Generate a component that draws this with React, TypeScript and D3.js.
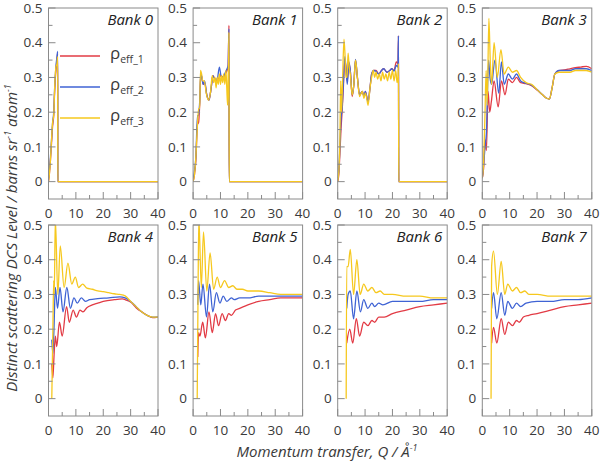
import React, { FC, useMemo } from 'react'
import * as d3 from 'd3'

type Pt = [number, number]

const qTicks = [0, 10, 20, 30, 40]
const qMinorTicks = [0, 5, 10, 15, 20, 25, 30, 35, 40]
const levelTicks = [0, 0.1, 0.2, 0.3, 0.4, 0.5]
const levelMinorTicks = [0, 0.05, 0.1, 0.15, 0.2, 0.25, 0.3, 0.35, 0.4, 0.45, 0.5]
const seriesSubs = ['eff_1', 'eff_2', 'eff_3']
const seriesColors = ['#e23b45', '#3f63d4', '#f6c81e']
const bankNames = ['Bank 0', 'Bank 1', 'Bank 2', 'Bank 3', 'Bank 4', 'Bank 5', 'Bank 6', 'Bank 7']

// [Q, DCS level] for each bank, rho_eff_1 / rho_eff_2 / rho_eff_3
const bank0Rho1: Pt[] = [[0, 0], [0.3, 0.02], [0.7, 0.06], [1.1, 0.11], [1.5, 0.16], [1.9, 0.19], [2.3, 0.27], [2.7, 0.32], [3.1, 0.35], [3.35, 0.37], [3.4, 0], [40, 0]]
const bank0Rho2: Pt[] = [[0, 0.01], [0.3, 0.03], [0.7, 0.07], [1.1, 0.12], [1.5, 0.17], [1.9, 0.2], [2.3, 0.28], [2.7, 0.33], [3.1, 0.36], [3.35, 0.375], [3.4, 0], [40, 0]]
const bank0Rho3: Pt[] = [[0, 0], [0.3, 0.02], [0.7, 0.06], [1.1, 0.12], [1.5, 0.17], [1.9, 0.19], [2.3, 0.28], [2.7, 0.33], [3.1, 0.34], [3.35, 0.36], [3.4, 0], [40, 0]]

const bank1Rho1: Pt[] = [[0, 0], [0.5, 0.02], [1.0, 0.06], [1.6, 0.165], [2.0, 0.17], [2.4, 0.22], [2.8, 0.31], [3.2, 0.3], [3.7, 0.28], [4.2, 0.285], [5.0, 0.25], [5.8, 0.235], [6.6, 0.27], [7.2, 0.305], [8.0, 0.295], [8.8, 0.29], [9.6, 0.3], [10.2, 0.305], [11.0, 0.3], [11.8, 0.31], [12.4, 0.32], [12.8, 0.33], [13.1, 0.45], [13.2, 0], [40, 0]]
const bank1Rho2: Pt[] = [[0, 0.01], [0.5, 0.03], [1.0, 0.07], [1.6, 0.19], [2.0, 0.19], [2.4, 0.23], [2.8, 0.31], [3.2, 0.3], [3.7, 0.28], [4.2, 0.29], [5.0, 0.25], [5.8, 0.235], [6.6, 0.27], [7.2, 0.305], [8.0, 0.295], [8.8, 0.295], [9.6, 0.33], [10.2, 0.305], [11.0, 0.3], [11.8, 0.315], [12.4, 0.325], [12.8, 0.335], [13.1, 0.44], [13.2, 0], [40, 0]]
const bank1Rho3: Pt[] = [[0, 0], [0.5, 0.02], [1.0, 0.07], [1.5, 0.15], [2.0, 0.21], [2.4, 0.21], [2.7, 0.32], [3.1, 0.31], [3.5, 0.29], [4.1, 0.29], [4.8, 0.255], [5.6, 0.235], [6.4, 0.26], [7.0, 0.305], [7.5, 0.285], [8.0, 0.3], [8.4, 0.27], [8.8, 0.3], [9.2, 0.28], [9.6, 0.31], [10.0, 0.28], [10.4, 0.305], [10.8, 0.285], [11.2, 0.31], [11.6, 0.28], [12.0, 0.32], [12.3, 0.27], [12.6, 0.22], [12.8, 0.3], [13.0, 0.36], [13.1, 0.43], [13.2, 0], [40, 0]]

const bank2Rho1: Pt[] = [[0, 0], [0.4, 0.02], [0.8, 0.08], [1.2, 0.15], [1.6, 0.2], [2.0, 0.26], [2.6, 0.35], [3.0, 0.33], [3.5, 0.29], [4.1, 0.34], [4.6, 0.32], [5.3, 0.245], [5.9, 0.28], [6.5, 0.35], [7.2, 0.3], [8.0, 0.25], [9.0, 0.26], [9.6, 0.245], [10.1, 0.26], [11.1, 0.23], [11.8, 0.27], [12.4, 0.31], [13.2, 0.32], [14.0, 0.32], [15.0, 0.31], [16.0, 0.32], [16.8, 0.325], [18.0, 0.315], [19.0, 0.32], [19.8, 0.325], [20.6, 0.32], [21.4, 0.345], [22.0, 0.34], [22.2, 0.42], [22.3, 0], [40, 0]]
const bank2Rho2: Pt[] = [[0, 0.01], [0.4, 0.03], [0.8, 0.1], [1.2, 0.18], [1.6, 0.21], [2.0, 0.27], [2.6, 0.36], [3.0, 0.33], [3.5, 0.28], [4.1, 0.345], [4.6, 0.32], [5.3, 0.25], [5.9, 0.28], [6.5, 0.352], [7.2, 0.3], [8.0, 0.25], [9.0, 0.26], [9.6, 0.245], [10.1, 0.26], [11.1, 0.23], [11.8, 0.27], [12.4, 0.31], [13.2, 0.32], [14.0, 0.318], [15.0, 0.31], [16.0, 0.32], [16.8, 0.325], [18.0, 0.315], [19.0, 0.32], [19.8, 0.325], [20.6, 0.318], [21.4, 0.335], [22.0, 0.33], [22.2, 0.42], [22.3, 0], [40, 0]]
const bank2Rho3: Pt[] = [[0, 0], [0.4, 0.03], [0.8, 0.12], [1.1, 0.29], [1.4, 0.2], [1.8, 0.3], [2.3, 0.41], [2.7, 0.36], [3.0, 0.3], [3.4, 0.3], [3.8, 0.37], [4.2, 0.33], [4.6, 0.31], [5.3, 0.25], [5.9, 0.28], [6.5, 0.35], [7.2, 0.3], [8.0, 0.245], [8.6, 0.255], [9.0, 0.26], [9.6, 0.24], [10.1, 0.255], [10.6, 0.24], [11.1, 0.22], [11.8, 0.27], [12.4, 0.3], [13.0, 0.32], [13.5, 0.3], [14.0, 0.315], [14.6, 0.295], [15.2, 0.31], [15.8, 0.29], [16.4, 0.315], [17.0, 0.295], [17.6, 0.31], [18.2, 0.29], [18.8, 0.315], [19.4, 0.295], [20.0, 0.32], [20.6, 0.29], [21.2, 0.32], [21.7, 0.285], [22.0, 0.3], [22.2, 0.34], [22.3, 0], [40, 0]]

const bank3Rho1: Pt[] = [[0, 0.01], [0.5, 0.04], [1.0, 0.12], [1.5, 0.09], [2.1, 0.26], [2.7, 0.2], [3.3, 0.23], [4.3, 0.29], [5.8, 0.215], [7.0, 0.29], [8.3, 0.25], [9.5, 0.295], [11, 0.285], [12.5, 0.3], [14, 0.285], [16, 0.282], [18, 0.276], [20, 0.264], [22, 0.25], [23.5, 0.24], [24.5, 0.238], [25.5, 0.27], [26.5, 0.31], [28, 0.32], [30, 0.322], [32, 0.325], [34, 0.328], [36, 0.33], [38, 0.332], [40, 0.325]]
const bank3Rho2: Pt[] = [[0, 0.01], [0.5, 0.05], [1.0, 0.1], [1.5, 0.14], [2.3, 0.35], [2.8, 0.3], [3.4, 0.28], [4.6, 0.35], [6.0, 0.255], [7.0, 0.345], [8.0, 0.28], [9.5, 0.31], [11, 0.295], [12.5, 0.31], [14, 0.29], [16, 0.283], [18, 0.278], [20, 0.265], [22, 0.25], [23.5, 0.24], [24.5, 0.238], [25.5, 0.27], [26.5, 0.31], [28, 0.32], [30, 0.32], [32, 0.32], [34, 0.325], [36, 0.325], [38, 0.325], [40, 0.32]]
const bank3Rho3: Pt[] = [[0, 0.01], [0.5, 0.06], [1.0, 0.2], [1.4, 0.32], [1.8, 0.22], [2.4, 0.47], [2.9, 0.35], [3.4, 0.28], [4.3, 0.4], [5.5, 0.3], [6.8, 0.38], [8.0, 0.31], [9.5, 0.33], [11, 0.315], [12.5, 0.32], [14, 0.3], [16, 0.285], [18, 0.28], [20, 0.265], [22, 0.25], [23.5, 0.24], [24.5, 0.238], [25.5, 0.27], [26.5, 0.31], [28, 0.315], [30, 0.315], [32, 0.315], [34, 0.32], [36, 0.32], [38, 0.32], [40, 0.315]]

const bank4Rho1: Pt[] = [[1.2, 0.1], [1.6, 0.06], [2.0, 0.12], [2.5, 0.18], [3.0, 0.15], [4.0, 0.22], [5.0, 0.18], [6.6, 0.265], [7.6, 0.22], [9.0, 0.255], [10.2, 0.235], [11.5, 0.255], [12.6, 0.25], [14, 0.262], [16, 0.27], [18, 0.275], [20, 0.28], [24, 0.285], [27, 0.287], [28, 0.285], [30, 0.278], [32, 0.262], [34, 0.25], [36, 0.24], [38, 0.233], [40, 0.235]]
const bank4Rho2: Pt[] = [[1.2, 0.17], [1.6, 0.13], [2.0, 0.2], [2.5, 0.32], [3.3, 0.26], [4.2, 0.32], [5.3, 0.25], [6.7, 0.32], [8.0, 0.26], [9.3, 0.29], [10.5, 0.275], [12, 0.29], [13.5, 0.28], [15, 0.285], [18, 0.288], [22, 0.29], [26, 0.293], [28, 0.29], [30, 0.28], [32, 0.265], [34, 0.25], [36, 0.24], [38, 0.235], [40, 0.235]]
const bank4Rho3: Pt[] = [[1.2, 0], [1.6, 0.2], [1.9, 0.34], [2.1, 0.3], [2.5, 0.52], [3.4, 0.3], [4.3, 0.44], [5.7, 0.32], [7.1, 0.39], [8.5, 0.33], [9.8, 0.35], [11, 0.32], [12.5, 0.33], [14, 0.318], [16, 0.315], [18, 0.31], [20, 0.308], [22, 0.305], [24, 0.302], [26, 0.3], [28, 0.296], [30, 0.28], [32, 0.265], [34, 0.25], [36, 0.24], [38, 0.235], [40, 0.235]]

const bank5Rho1: Pt[] = [[1.7, 0.12], [2.0, 0.19], [2.5, 0.18], [3.5, 0.22], [4.5, 0.175], [5.8, 0.25], [7.0, 0.19], [8.2, 0.245], [9.3, 0.21], [10.6, 0.245], [11.8, 0.225], [13, 0.245], [14, 0.24], [15.5, 0.255], [17, 0.26], [20, 0.27], [24, 0.28], [28, 0.285], [32, 0.29], [36, 0.29], [40, 0.29]]
const bank5Rho2: Pt[] = [[1.7, 0.27], [2.0, 0.34], [2.8, 0.27], [3.6, 0.33], [4.9, 0.235], [6.0, 0.33], [7.2, 0.25], [8.5, 0.305], [9.8, 0.275], [11, 0.295], [12.3, 0.28], [14, 0.29], [15, 0.285], [17, 0.29], [20, 0.29], [24, 0.295], [30, 0.295], [35, 0.295], [40, 0.295]]
const bank5Rho3: Pt[] = [[1.5, 0], [1.8, 0.3], [2.1, 0.52], [3.0, 0.32], [3.8, 0.48], [5.0, 0.31], [6.2, 0.42], [7.5, 0.315], [8.8, 0.35], [10, 0.32], [11.5, 0.34], [13, 0.32], [14.5, 0.325], [16, 0.315], [18, 0.315], [20, 0.31], [24, 0.31], [28, 0.305], [32, 0.3], [36, 0.3], [40, 0.3]]

const bank6Rho1: Pt[] = [[3.3, 0.16], [4.4, 0.2], [5.5, 0.16], [6.8, 0.23], [8.0, 0.18], [9.5, 0.22], [11, 0.21], [12.5, 0.225], [13.5, 0.22], [15, 0.235], [17, 0.235], [20, 0.245], [25, 0.255], [30, 0.265], [35, 0.27], [40, 0.275]]
const bank6Rho2: Pt[] = [[3.3, 0.26], [3.8, 0.3], [4.6, 0.31], [5.8, 0.23], [7.0, 0.31], [8.3, 0.25], [9.5, 0.285], [11, 0.26], [12.5, 0.275], [13.5, 0.265], [15, 0.275], [16.5, 0.27], [20, 0.28], [25, 0.28], [30, 0.28], [35, 0.285], [40, 0.285]]
const bank6Rho3: Pt[] = [[3.1, 0], [3.3, 0.38], [3.8, 0.38], [4.6, 0.43], [5.8, 0.3], [7.0, 0.4], [8.2, 0.3], [9.5, 0.33], [11, 0.31], [12.5, 0.32], [14, 0.305], [15.5, 0.31], [17, 0.3], [20, 0.3], [25, 0.295], [30, 0.295], [35, 0.29], [40, 0.29]]

const bank7Rho1: Pt[] = [[3.4, 0.16], [4.1, 0.205], [5.3, 0.16], [6.9, 0.23], [8.2, 0.185], [9.5, 0.22], [11, 0.21], [12.5, 0.225], [13.5, 0.22], [15, 0.235], [17, 0.24], [20, 0.245], [25, 0.255], [30, 0.265], [35, 0.27], [40, 0.275]]
const bank7Rho2: Pt[] = [[3.4, 0.26], [4.1, 0.305], [5.3, 0.23], [6.9, 0.305], [8.2, 0.24], [9.3, 0.28], [11, 0.26], [12.5, 0.275], [14, 0.265], [16, 0.275], [20, 0.28], [25, 0.28], [30, 0.285], [35, 0.285], [40, 0.29]]
const bank7Rho3: Pt[] = [[3.2, 0], [3.4, 0.38], [4.1, 0.425], [5.5, 0.3], [6.9, 0.395], [8.2, 0.3], [9.3, 0.33], [11, 0.31], [12.5, 0.32], [14, 0.305], [15.5, 0.31], [17, 0.3], [20, 0.3], [25, 0.295], [30, 0.295], [35, 0.295], [40, 0.295]]

const banks: Pt[][][] = [
	[bank0Rho1, bank0Rho2, bank0Rho3],
	[bank1Rho1, bank1Rho2, bank1Rho3],
	[bank2Rho1, bank2Rho2, bank2Rho3],
	[bank3Rho1, bank3Rho2, bank3Rho3],
	[bank4Rho1, bank4Rho2, bank4Rho3],
	[bank5Rho1, bank5Rho2, bank5Rho3],
	[bank6Rho1, bank6Rho2, bank6Rho3],
	[bank7Rho1, bank7Rho2, bank7Rho3]
]

const WIDTH = 601
const HEIGHT = 462
const FONT = '"Open Sans", "Noto Sans", sans-serif'
const FRAME = '#8a8a8a'
const TEXT = '#3a3a3a'

interface IPanelProps {
	index: number
	series: Pt[][]
	left: number
	top: number
	width: number
	height: number
}

const Panel: FC<IPanelProps> = ({ index, series, left, top, width, height }) => {
	const x = useMemo(() => d3.scaleLinear().domain([0, 40]).range([left, left + width]), [left, width])
	const y = useMemo(() => d3.scaleLinear().domain([-0.05, 0.5]).range([top + height, top]), [top, height])
	const line = d3
		.line<Pt>()
		.x(d => x(d[0]))
		.y(d => y(d[1]))
		.curve(d3.curveMonotoneX)
	const bottom = top + height
	const clipId = `clip-bank-${index}`

	return (
		<g>
			<defs>
				<clipPath id={clipId}>
					<rect x={left} y={top} width={width} height={height} />
				</clipPath>
			</defs>
			<g clipPath={`url(#${clipId})`}>
				{series.map((s, i) => (
					<path key={i} d={line(s) || ''} fill="none" stroke={seriesColors[i]} strokeWidth={1.3} strokeLinejoin="round" />
				))}
			</g>
			<rect x={left} y={top} width={width} height={height} fill="none" stroke={FRAME} strokeWidth={1} />
			{/* 坐标刻度 */}
			{levelMinorTicks.map(t => {
				const major = Math.abs(t * 10 - Math.round(t * 10)) < 1e-6
				return <line key={`ly${t}`} x1={left} x2={left + (major ? 7 : 4)} y1={y(t)} y2={y(t)} stroke={FRAME} />
			})}
			{qMinorTicks.map(t => {
				const major = t % 10 === 0
				return <line key={`lx${t}`} x1={x(t)} x2={x(t)} y1={bottom} y2={bottom - (major ? 7 : 4)} stroke={FRAME} />
			})}
			{levelTicks.map(t => (
				<text key={`ty${t}`} x={left - 6} y={y(t)} dy="0.35em" textAnchor="end" fontSize={13.5} fill={TEXT} fontFamily={FONT}>
					{t === 0 ? '0' : d3.format('.1f')(t)}
				</text>
			))}
			{qTicks.map(t => (
				<text key={`tx${t}`} x={x(t)} y={bottom + 14} dy="0.35em" textAnchor="middle" fontSize={13.5} fill={TEXT} fontFamily={FONT}>
					{t}
				</text>
			))}
			<text x={left + width - 5} y={top + 17} textAnchor="end" fontSize={15} fontStyle="italic" fill="#222" fontFamily={FONT}>
				{bankNames[index]}
			</text>
		</g>
	)
}

const App: FC = () => {
	const panelW = 109.5
	const panelH = 191
	const lefts = [48.5, 193.1, 337.7, 482.3]
	const tops = [8, 225]

	return (
		<svg
			width={WIDTH}
			height={HEIGHT}
			style={{ position: 'absolute', left: 0, top: 0, background: '#fff' }}
		>
			{banks.map((s, i) => (
				<Panel
					key={i}
					index={i}
					series={s}
					left={lefts[i % 4]}
					top={tops[Math.floor(i / 4)]}
					width={panelW}
					height={panelH}
				/>
			))}

			{/* 图例 */}
			{seriesSubs.map((sub, i) => {
				const ly = 56 + i * 31
				return (
					<g key={sub}>
						<line x1={60} x2={100} y1={ly} y2={ly} stroke={seriesColors[i]} strokeWidth={1.3} />
						<text x={110} y={ly + 3} fontFamily={FONT} fill={TEXT} fontSize={17}>
							ρ
							<tspan fontSize={10.5} dy={4}>
								{sub}
							</tspan>
						</text>
					</g>
				)
			})}

			<text
				transform="translate(17, 238) rotate(-90)"
				textAnchor="middle"
				fontFamily={FONT}
				fontStyle="italic"
				fontSize={15}
				fill={TEXT}
			>
				Distinct scattering DCS Level / barns sr
				<tspan fontSize={9} dy={-6}>-1</tspan>
				<tspan dy={6}> atom</tspan>
				<tspan fontSize={9} dy={-6}>-1</tspan>
			</text>
			<text x={327} y={457} textAnchor="middle" fontFamily={FONT} fontStyle="italic" fontSize={15} fill={TEXT}>
				Momentum transfer, Q / Å
				<tspan fontSize={9} dy={-6}>-1</tspan>
			</text>
		</svg>
	)
}

export default App
